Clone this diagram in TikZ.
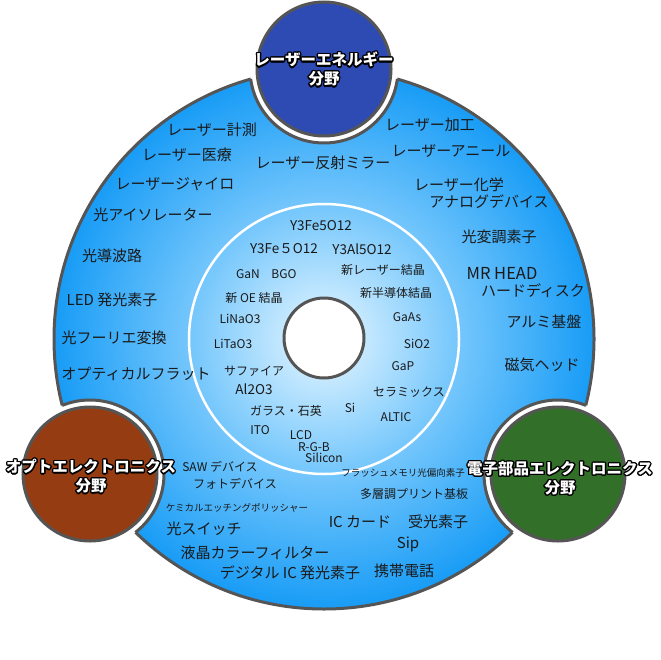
\documentclass[tikz,border=0pt]{standalone}
\usepackage{fontspec}
\setmainfont{Noto Sans CJK JP}
\usepackage[copies]{contour}
\contourlength{1.3pt}
\usepackage{tikz}
\definecolor{rand}{RGB}{85,85,85}
\definecolor{tekst}{RGB}{25,25,25}
\definecolor{schijfbinnen}{RGB}{232,247,255}
\definecolor{schijfmidden}{RGB}{120,200,252}
\definecolor{schijfbuiten}{RGB}{24,156,246}
\definecolor{laserblauw}{RGB}{45,75,178}
\definecolor{optobruin}{RGB}{150,60,18}
\definecolor{elekgroen}{RGB}{50,112,42}
\pgfdeclareradialshading{schijf}{\pgfpoint{0bp}{0bp}}{color(0bp)=(schijfbinnen); color(12bp)=(schijfmidden); color(25bp)=(schijfbuiten); color(50bp)=(schijfbuiten)}
\tikzset{
  buiten/.style={font=\fontsize{15}{17}\selectfont, text=tekst, inner sep=0pt},
  binnen/.style={font=\fontsize{12}{14}\selectfont, text=tekst, inner sep=0pt},
  formule/.style={font=\fontsize{13.5}{15}\selectfont, text=tekst, inner sep=0pt},
  klein/.style={font=\fontsize{9.5}{11}\selectfont, text=tekst, inner sep=0pt},
  veld/.style={font=\bfseries\fontsize{15.5}{19}\selectfont, text=white, align=center, inner sep=0pt}
}

\begin{document}
\begin{tikzpicture}[x=1pt, y=-1pt]
  \useasboundingbox (0,0) rectangle (660,660);
  \def\R{270} \def\r{67} \def\n{74} \def\ri{135}
  \coordinate (M) at (324,339);
  \coordinate (boven) at (324,69);
  \coordinate (links) at (90,474);
  \coordinate (rechts) at (558,474);
  % Grote schijf
  \shade[shading=schijf] (M) circle (\R pt);
  \draw[rand, line width=3pt] (M) circle (\R pt);
  % Uitsparingen rond de velden
  \fill[white] (boven) circle (\n pt) (links) circle (\n pt) (rechts) circle (\n pt);
  \begin{scope}
    \clip (M) circle (\R pt);
    \draw[rand, line width=3pt] (boven) circle (\n pt) (links) circle (\n pt) (rechts) circle (\n pt);
  \end{scope}
  % Binnenring en kern
  \draw[white, line width=2.5pt] (M) circle (\ri pt);
  \draw[rand, line width=3pt, fill=white] (324,338) circle (40pt);
  % Velden
  \draw[rand, line width=3pt, fill=laserblauw] (boven) circle (\r pt);
  \draw[rand, line width=3pt, fill=optobruin] (links) circle (\r pt);
  \draw[rand, line width=3pt, fill=elekgroen] (rechts) circle (\r pt);
  \node[veld] (laser) at (324,70) {\contour{black}{レーザーエネルギー}\\\contour{black}{分野}};
  \node[veld] (opto) at (91,477) {\contour{black}{オプトエレクトロニクス}\\\contour{black}{分野}};
  \node[veld] (elek) at (560,479) {\contour{black}{電子部品エレクトロニクス}\\\contour{black}{分野}};
  % Buitenring, links boven
  \node[buiten] (meten) at (212,130) {レーザー計測};
  \node[buiten] (medisch) at (187,155) {レーザー医療};
  \node[buiten] (gyro) at (175,184) {レーザージャイロ};
  \node[buiten] (isolator) at (153,215) {光アイソレーター};
  \node[buiten] (spiegel) at (323,163) {レーザー反射ミラー};
  % Buitenring, rechts boven
  \node[buiten] (bewerken) at (430,125) {レーザー加工};
  \node[buiten] (anneal) at (451,151) {レーザーアニール};
  \node[buiten] (chemie) at (459,185) {レーザー化学};
  \node[buiten] (analoog) at (489,202) {アナログデバイス};
  \node[buiten] (modulator) at (499,237) {光変調素子};
  % Buitenring, links
  \node[buiten] (golfgeleider) at (112,256) {光導波路};
  \node[buiten] (led) at (112,300) {LED 発光素子};
  \node[buiten] (fourier) at (114,338) {光フーリエ変換};
  \node[buiten] (vlak) at (136,374) {オプティカルフラット};
  % Buitenring, rechts
  \node[buiten, font=\fontsize{16.5}{18}\selectfont] (mrhead) at (502,273) {MR HEAD};
  \node[buiten] (schijf) at (533,291) {ハードディスク};
  \node[buiten] (alu) at (544,322) {アルミ基盤};
  \node[buiten] (kop) at (542,365) {磁気ヘッド};
  % Buitenring, onder
  \node[binnen] (saw) at (220,467) {SAW デバイス};
  \node[binnen] (foto) at (235,484) {フォトデバイス};
  \node[klein] (polijst) at (237,508) {ケミカルエッチングポリッシャー};
  \node[buiten] (schakelaar) at (204,529) {光スイッチ};
  \node[buiten] (filter) at (255,553) {液晶カラーフィルター};
  \node[buiten] (digitaal) at (290,573) {デジタル IC 発光素子};
  \node[klein] (flash) at (403,473) {フラッシュメモリ光偏向素子};
  \node[binnen] (print) at (414,494) {多層調プリント基板};
  \node[buiten] (kaart) at (360,522) {IC カード};
  \node[buiten] (ontvanger) at (438,522) {受光素子};
  \node[buiten] (sip) at (408,544) {Sip};
  \node[buiten] (telefoon) at (404,571) {携帯電話};
  % Binnenring
  \node[formule] (yig) at (321,226) {Y3Fe5O12};
  \node[formule] (yig2) at (284,249) {Y3Fe５O12};
  \node[formule] (yag) at (362,249) {Y3Al5O12};
  \node[binnen] (gan) at (248,274) {GaN};
  \node[binnen] (bgo) at (284,274) {BGO};
  \node[binnen] (nieuwlaser) at (383,270) {新レーザー結晶};
  \node[binnen] (nieuwoe) at (254,298) {新 OE 結晶};
  \node[binnen] (nieuwhalf) at (396,293) {新半導体結晶};
  \node[binnen] (linao) at (240,319) {LiNaO3};
  \node[binnen] (gaas) at (407,317) {GaAs};
  \node[binnen] (litao) at (233,344) {LiTaO3};
  \node[binnen] (sio) at (417,344) {SiO2};
  \node[binnen] (saffier) at (254,371) {サファイア};
  \node[binnen] (gap) at (403,366) {GaP};
  \node[formule] (alo) at (254,389) {Al2O3};
  \node[binnen] (keramiek) at (409,392) {セラミックス};
  \node[binnen] (glas) at (286,411) {ガラス・石英};
  \node[binnen] (si) at (350,408) {Si};
  \node[binnen] (altic) at (396,417) {ALTIC};
  \node[binnen] (ito) at (260,430) {ITO};
  \node[binnen] (lcd) at (301,435) {LCD};
  \node[binnen] (rgb) at (314,447) {R-G-B};
  \node[binnen] (silicium) at (324,458) {Silicon};
\end{tikzpicture}
\end{document}
